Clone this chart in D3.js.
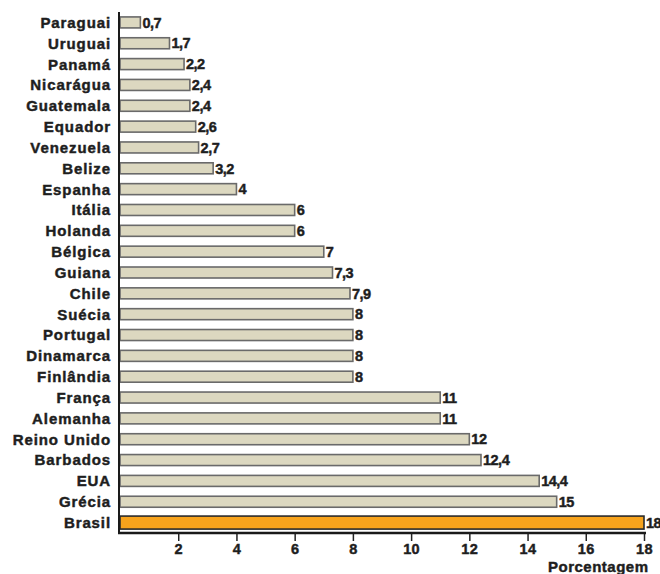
<!DOCTYPE html>
<html>
<head>
<meta charset="utf-8">
<script src="https://cdn.jsdelivr.net/npm/d3@7"></script>
<style>
  html, body { margin: 0; padding: 0; background: #fff; }
  svg { display: block; }
  text {
    font-family: "Liberation Sans", Arial, Helvetica, sans-serif;
    font-weight: bold;
    fill: #1e1e1e;
    stroke: #1e1e1e;
    stroke-width: 0.45px;
  }
</style>
</head>
<body>
<svg id="chart" width="660" height="574"></svg>
<script>
// Countries, top to bottom
const countries = [
  "Paraguai", "Uruguai", "Panamá", "Nicarágua", "Guatemala", "Equador",
  "Venezuela", "Belize", "Espanha", "Itália", "Holanda", "Bélgica",
  "Guiana", "Chile", "Suécia", "Portugal", "Dinamarca", "Finlândia",
  "França", "Alemanha", "Reino Unido", "Barbados", "EUA", "Grécia", "Brasil"
];
// Percentages for each country
const values = [
  0.7, 1.7, 2.2, 2.4, 2.4, 2.6,
  2.7, 3.2, 4, 6, 6, 7,
  7.3, 7.9, 8, 8, 8, 8,
  11, 11, 12, 12.4, 14.4, 15, 18
];
// Labels shown next to the bars (comma decimals)
const valueLabels = [
  "0,7", "1,7", "2,2", "2,4", "2,4", "2,6",
  "2,7", "3,2", "4", "6", "6", "7",
  "7,3", "7,9", "8", "8", "8", "8",
  "11", "11", "12", "12,4", "14,4", "15", "18"
];
const tickValues = [2, 4, 6, 8, 10, 12, 14, 16, 18];
const highlight = "Brasil";
const axisTitle = "Porcentagem";

const data = countries.map((c, i) => ({ country: c, value: values[i], label: valueLabels[i] }));

const svg = d3.select("#chart");
const x0 = 120, x1 = 644, yTop = 12, yBottom = 533;

const x = d3.scaleLinear().domain([0, 18]).range([x0, x1]);
const y = d3.scaleBand().domain(countries).range([yTop, yBottom]).paddingInner(0).paddingOuter(0);

const rows = svg.append("g").selectAll("g").data(data).join("g")
  .attr("transform", d => `translate(0,${y(d.country) + y.bandwidth() / 2})`);

// Bars
rows.append("rect")
  .attr("x", x(0))
  .attr("y", d => d.country === highlight ? -6.5 : -5.5)
  .attr("width", d => x(d.value) - x(0))
  .attr("height", d => d.country === highlight ? 13 : 11)
  .attr("fill", d => d.country === highlight ? "#f7a31c" : "#dcd8c0")
  .attr("stroke", d => d.country === highlight ? "#2a2a2a" : "#6a6a6a")
  .attr("stroke-width", 1.6);

// Country names
rows.append("text")
  .attr("x", 111)
  .attr("y", 0)
  .attr("dy", "0.36em")
  .attr("text-anchor", "end")
  .attr("font-size", 15)
  .attr("letter-spacing", 0.9)
  .text(d => d.country);

// Value labels
rows.append("text")
  .attr("x", d => x(d.value) + 2)
  .attr("y", 0)
  .attr("dy", "0.36em")
  .attr("font-size", 14.5)
  .attr("letter-spacing", -0.5)
  .text(d => d.label);

// Bottom axis
const xAxis = d3.axisBottom(x).tickValues(tickValues).tickSize(8).tickPadding(3)
  .tickFormat(d3.format("d"));
const gx = svg.append("g").attr("transform", `translate(0,${yBottom})`).call(xAxis);
gx.select(".domain").remove();
gx.selectAll(".tick line").attr("stroke", "#222").attr("stroke-width", 1.5);
gx.selectAll(".tick text")
  .attr("font-size", 14.5)
  .attr("font-family", "Liberation Sans, Arial, sans-serif")
  .attr("font-weight", "bold")
  .attr("letter-spacing", 0.4)
  .attr("fill", "#1e1e1e");

// Axis lines
svg.append("line")
  .attr("x1", x0 - 1).attr("x2", x0 - 1)
  .attr("y1", yTop).attr("y2", yBottom + 1)
  .attr("stroke", "#1a1a1a").attr("stroke-width", 2);
svg.append("line")
  .attr("x1", x0 - 2).attr("x2", x(18) + 2)
  .attr("y1", yBottom).attr("y2", yBottom)
  .attr("stroke", "#1a1a1a").attr("stroke-width", 2.5);

// Axis title
svg.append("text")
  .attr("x", 548)
  .attr("y", 572)
  .attr("font-size", 15)
  .attr("letter-spacing", 0.5)
  .text(axisTitle);
</script>
</body>
</html>
